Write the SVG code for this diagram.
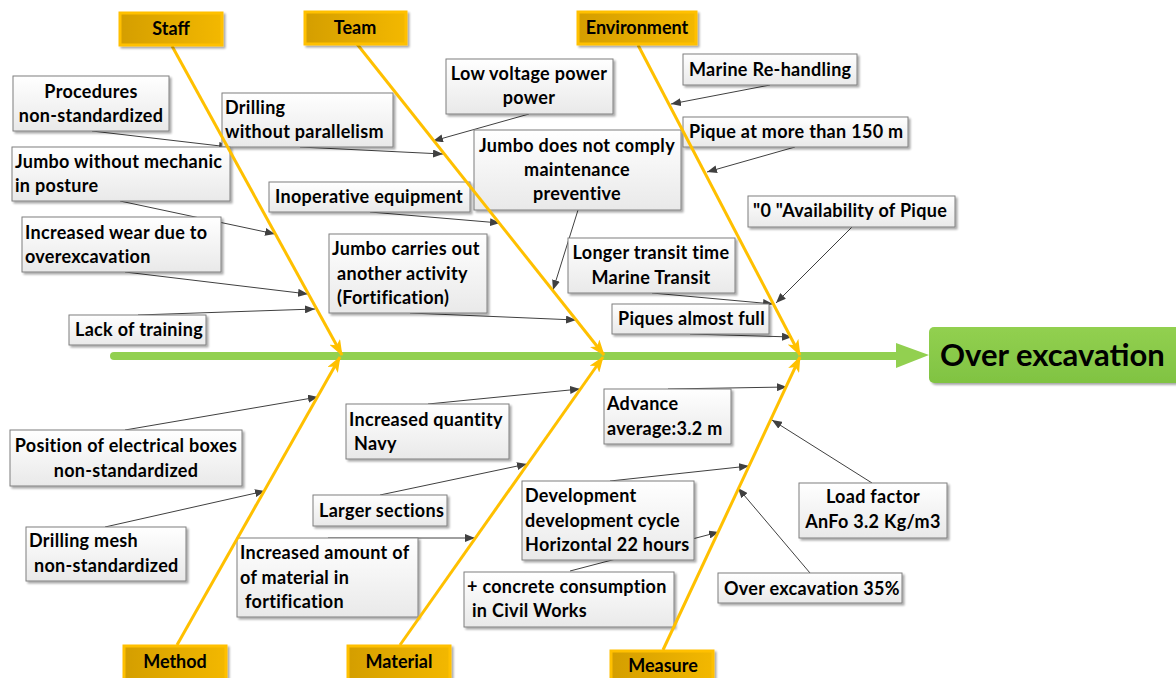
<svg xmlns="http://www.w3.org/2000/svg" width="1176" height="678" viewBox="0 0 1176 678">
<defs>
<style>
.t{font-family:Lato,"Liberation Sans",sans-serif;font-weight:700;font-size:18px;letter-spacing:0.3px;fill:#000}
.c{text-anchor:middle}
.box{fill:url(#bg);stroke:#7f7f7f;stroke-width:1;filter:url(#sh)}
.cat{fill:url(#cg);stroke:#FFC000;stroke-width:3;filter:url(#sh)}
.ct{font-family:Lato,"Liberation Sans",sans-serif;font-weight:700;font-size:18px;fill:#000;text-anchor:middle}
.ln{stroke:#404040;stroke-width:1;fill:none;marker-end:url(#ar)}
.bone{stroke:#FFC000;stroke-width:3;fill:none;marker-end:url(#ga)}
</style>
<linearGradient id="bg" x1="0" y1="0" x2="0" y2="1">
<stop offset="0" stop-color="#ffffff"/><stop offset="1" stop-color="#e9e9e9"/>
</linearGradient>
<linearGradient id="cg" x1="0" y1="0" x2="1" y2="0">
<stop offset="0" stop-color="#D49E00"/><stop offset="1" stop-color="#F3B800"/>
</linearGradient>
<linearGradient id="eg" x1="0" y1="0" x2="0" y2="1">
<stop offset="0" stop-color="#92D050"/><stop offset="1" stop-color="#80C342"/>
</linearGradient>
<filter id="sh" x="-10%" y="-10%" width="130%" height="140%">
<feGaussianBlur in="SourceAlpha" stdDeviation="1.2"/>
<feOffset dx="2" dy="2" result="b"/>
<feComponentTransfer><feFuncA type="linear" slope="0.35"/></feComponentTransfer>
<feMerge><feMergeNode/><feMergeNode in="SourceGraphic"/></feMerge>
</filter>
<marker id="ar" viewBox="0 0 10 8" refX="10" refY="4" markerWidth="10" markerHeight="8" markerUnits="userSpaceOnUse" orient="auto">
<path d="M0,0 L10,4 L0,8 Z" fill="#404040"/>
</marker>
<marker id="ga" viewBox="0 0 16 12" refX="15" refY="6" markerWidth="16" markerHeight="12" markerUnits="userSpaceOnUse" orient="auto">
<path d="M0,0 L16,6 L0,12 L4,6 Z" fill="#FFC000"/>
</marker>
</defs>
<rect width="1176" height="678" fill="#ffffff"/>

<g id="spine">
<line x1="114" y1="356" x2="900" y2="356" stroke="#92D050" stroke-width="8" stroke-linecap="round"/>
<path d="M896,343 L929,355 L896,368 Z" fill="#92D050"/>
</g>

<g id="effect">
<rect x="929" y="327" width="252" height="56" rx="5" fill="url(#eg)" filter="url(#sh)"/>
<text x="940" y="366" font-family="Lato,'Liberation Sans',sans-serif" font-weight="700" font-size="31" fill="#000">Over excavation</text>
</g>

<g id="connectors">
<line class="ln" x1="92" y1="131" x2="229" y2="147"/>
<line class="ln" x1="300" y1="147" x2="443" y2="154"/>
<line class="ln" x1="120" y1="201" x2="275" y2="234"/>
<line class="ln" x1="125" y1="272" x2="308" y2="294"/>
<line class="ln" x1="138" y1="315" x2="315" y2="309"/>
<line class="ln" x1="529" y1="114" x2="433" y2="141"/>
<line class="ln" x1="578" y1="210" x2="553" y2="290"/>
<line class="ln" x1="370" y1="212" x2="500" y2="223"/>
<line class="ln" x1="410" y1="313" x2="576" y2="320"/>
<line class="ln" x1="770" y1="85" x2="671" y2="104"/>
<line class="ln" x1="795" y1="147" x2="707" y2="172"/>
<line class="ln" x1="852" y1="227" x2="776" y2="303"/>
<line class="ln" x1="652" y1="293" x2="773" y2="304"/>
<line class="ln" x1="690" y1="334" x2="792" y2="337"/>
<line class="ln" x1="125" y1="430" x2="318" y2="397"/>
<line class="ln" x1="105" y1="527" x2="265" y2="491"/>
<line class="ln" x1="428" y1="404" x2="580" y2="389"/>
<line class="ln" x1="380" y1="495" x2="527" y2="464"/>
<line class="ln" x1="328" y1="538" x2="475" y2="538"/>
<line class="ln" x1="668" y1="389" x2="787" y2="387"/>
<line class="ln" x1="610" y1="481" x2="749" y2="466"/>
<line class="ln" x1="570" y1="571" x2="719" y2="532"/>
<line class="ln" x1="872" y1="483" x2="772" y2="420"/>
<line class="ln" x1="810" y1="573" x2="738" y2="488"/>
</g>

<g id="n1"><rect class="box" x="13" y="76" width="156" height="55"/>
<text class="t c" x="91" y="98">Procedures</text><text class="t c" x="91" y="122">non-standardized</text></g>
<g id="n2"><rect class="box" x="222" y="93" width="171" height="54"/>
<text class="t" x="225" y="114">Drilling</text><text class="t" x="225" y="138">without parallelism</text></g>
<g id="n3"><rect class="box" x="12" y="147" width="218" height="54"/>
<text class="t" x="15" y="168">Jumbo without mechanic</text><text class="t" x="15" y="192">in posture</text></g>
<g id="n4"><rect class="box" x="22" y="217" width="199" height="55"/>
<text class="t" x="25" y="239">Increased wear due to</text><text class="t" x="25" y="263">overexcavation</text></g>
<g id="n5"><rect class="box" x="69" y="315" width="137" height="30"/>
<text class="t" x="75" y="336">Lack of training</text></g>
<g id="n6"><rect class="box" x="446" y="59" width="167" height="55"/>
<text class="t c" x="529" y="80">Low voltage power</text><text class="t c" x="529" y="104">power</text></g>
<g id="n7"><rect class="box" x="474" y="130" width="207" height="80"/>
<text class="t c" x="577" y="152">Jumbo does not comply</text><text class="t c" x="577" y="176">maintenance</text><text class="t c" x="577" y="200">preventive</text></g>
<g id="n8"><rect class="box" x="269" y="182" width="201" height="30"/>
<text class="t" x="275" y="203">Inoperative equipment</text></g>
<g id="n9"><rect class="box" x="329" y="234" width="158" height="79"/>
<text class="t" x="332" y="255">Jumbo carries out</text><text class="t" x="337" y="280">another activity</text><text class="t" x="337" y="304">(Fortification)</text></g>
<g id="n10"><rect class="box" x="683" y="54" width="174" height="31"/>
<text class="t" x="689" y="76">Marine Re-handling</text></g>
<g id="n11"><rect class="box" x="683" y="117" width="225" height="30"/>
<text class="t" x="689" y="138">Pique at more than 150 m</text></g>
<g id="n12"><rect class="box" x="748" y="196" width="207" height="31"/>
<text class="t" x="753" y="217">"0 "Availability of Pique</text></g>
<g id="n13"><rect class="box" x="568" y="238" width="167" height="55"/>
<text class="t c" x="651" y="259">Longer transit time</text><text class="t c" x="651" y="284">Marine Transit</text></g>
<g id="n14"><rect class="box" x="612" y="304" width="157" height="30"/>
<text class="t" x="618" y="325">Piques almost full</text></g>
<g id="n15"><rect class="box" x="10" y="430" width="232" height="56"/>
<text class="t c" x="126" y="452">Position of electrical boxes</text><text class="t c" x="126" y="477">non-standardized</text></g>
<g id="n16"><rect class="box" x="26" y="527" width="160" height="54"/>
<text class="t" x="29" y="547">Drilling mesh</text><text class="t" x="34" y="572">non-standardized</text></g>
<g id="n17"><rect class="box" x="346" y="404" width="163" height="55"/>
<text class="t" x="349" y="426">Increased quantity</text><text class="t" x="354" y="450">Navy</text></g>
<g id="n18"><rect class="box" x="313" y="495" width="134" height="31"/>
<text class="t" x="319" y="517">Larger sections</text></g>
<g id="n19"><rect class="box" x="237" y="538" width="181" height="79"/>
<text class="t" x="240" y="559">Increased amount of</text><text class="t" x="240" y="584">of material in</text><text class="t" x="245" y="608">fortification</text></g>
<g id="n20"><rect class="box" x="604" y="389" width="127" height="55"/>
<text class="t" x="607" y="410">Advance</text><text class="t" x="607" y="435">average:3.2 m</text></g>
<g id="n21"><rect class="box" x="522" y="481" width="172" height="79"/>
<text class="t" x="525" y="502">Development</text><text class="t" x="525" y="527">development cycle</text><text class="t" x="525" y="551">Horizontal 22 hours</text></g>
<g id="n22"><rect class="box" x="464" y="572" width="210" height="55"/>
<text class="t" x="467" y="593">+ concrete consumption</text><text class="t" x="472" y="617">in Civil Works</text></g>
<g id="n23"><rect class="box" x="799" y="483" width="148" height="55"/>
<text class="t c" x="873" y="503">Load factor</text><text class="t c" x="873" y="528">AnFo 3.2 Kg/m3</text></g>
<g id="n24"><rect class="box" x="718" y="573" width="184" height="30"/>
<text class="t" x="724" y="595">Over excavation 35%</text></g>

<g id="bones">
<line class="bone" x1="172" y1="46" x2="342" y2="355"/>
<line class="bone" x1="357" y1="44" x2="604" y2="355"/>
<line class="bone" x1="638" y1="45" x2="800" y2="355"/>
<line class="bone" x1="177" y1="645" x2="340" y2="357"/>
<line class="bone" x1="400" y1="645" x2="603" y2="357"/>
<line class="bone" x1="663" y1="650" x2="800" y2="357"/>
</g>

<g id="staff"><rect class="cat" x="120" y="13" width="102" height="32"/><text class="ct" x="171" y="35">Staff</text></g>
<g id="team"><rect class="cat" x="305" y="12" width="101" height="32"/><text class="ct" x="355" y="34">Team</text></g>
<g id="environment"><rect class="cat" x="578" y="12" width="118" height="32"/><text class="ct" x="637" y="34">Environment</text></g>
<g id="method"><rect class="cat" x="124" y="646" width="102" height="36"/><text class="ct" x="175" y="668">Method</text></g>
<g id="material"><rect class="cat" x="348" y="646" width="102" height="36"/><text class="ct" x="399" y="668">Material</text></g>
<g id="measure"><rect class="cat" x="611" y="651" width="102" height="32"/><text class="ct" x="663" y="672">Measure</text></g>
</svg>
